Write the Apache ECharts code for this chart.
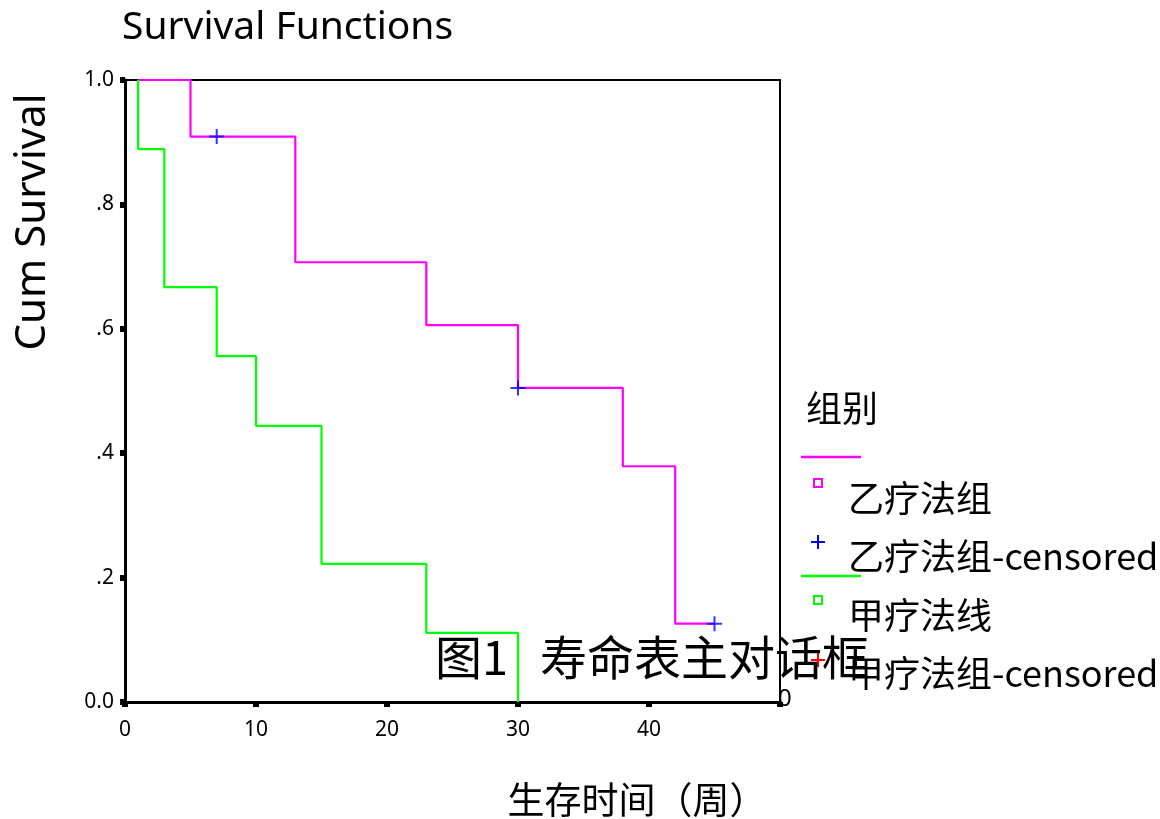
<!DOCTYPE html>
<html><head><meta charset="utf-8">
<script src="https://cdn.jsdelivr.net/npm/echarts@6/dist/echarts.min.js"></script>
<style>html,body{margin:0;padding:0;background:#fff}#c{width:1160px;height:819px}</style>
</head><body><div id="c"></div>
<script>
// ---- data ----
const title = 'Survival Functions';
const yName = 'Cum Survival';
const xName = '生存时间（周）';
const legendTitle = '组别';
const legendLabels = ['乙疗法组', '乙疗法组-censored', '甲疗法线', '甲疗法组-censored'];
const overlayText = ['图1', '寿命表主对话框'];
const xTicks = [0, 10, 20, 30, 40, 50];
const yTickLabels = ['0.0', '.2', '.4', '.6', '.8', '1.0'];

// 乙疗法组 (pink) step curve
const yiTimes = [1, 5, 13, 23, 30, 38, 42, 45];
const yiSurv  = [1.0, 0.909, 0.707, 0.606, 0.505, 0.379, 0.126, 0.126];
const yiCensTimes = [7, 30, 45];
const yiCensSurv  = [0.909, 0.505, 0.126];
// 甲疗法线 (green) step curve
const jiaTimes = [1, 1, 3, 7, 10, 15, 23, 30];
const jiaSurv  = [1.0, 0.889, 0.667, 0.556, 0.444, 0.222, 0.111, 0.0];

const pink = '#ff00ff', green = '#00ff00', blue = '#0000ff', red = '#ff0000';
const sans = '"Noto Sans", "Noto Sans CJK SC", sans-serif';
const cjk = '"Noto Sans CJK SC", "Noto Sans", sans-serif';
const plus = 'path://M0,6.5h15v2h-15z M6.5,0h2v15h-2z';

const zip = (a, b) => a.map((v, i) => [v, b[i]]);

const chart = echarts.init(document.getElementById('c'), null, {renderer: 'canvas'});

function txt(x, y, text, size, family, extra) {
  return Object.assign({type: 'text', x: x, y: y, z: 50,
    style: {text: text, fontSize: size, fontFamily: family, fill: '#000', textVerticalAlign: 'middle', verticalAlign: 'middle'}}, extra || {});
}
function plusMark(cx, cy, color) {
  return [
    {type: 'line', shape: {x1: cx - 7, y1: cy, x2: cx + 7, y2: cy}, style: {stroke: color, lineWidth: 2}},
    {type: 'line', shape: {x1: cx, y1: cy - 7, x2: cx, y2: cy + 7}, style: {stroke: color, lineWidth: 2}}
  ];
}

const legendX = 801;
const graphics = [
  txt(122, 28, title, 39, sans),
  {type: 'text', x: 33, y: 222, rotation: Math.PI / 2, z: 50,
   style: {text: yName, fontSize: 42, fontFamily: sans, fill: '#000', align: 'center', verticalAlign: 'middle'}},
  {type: 'text', x: 637, y: 800, z: 50,
   style: {text: xName, fontSize: 37, fontFamily: cjk, fill: '#000', align: 'center', verticalAlign: 'middle'}},
  txt(806, 408, legendTitle, 36, cjk),
  {type: 'line', shape: {x1: legendX, y1: 457, x2: legendX + 60, y2: 457}, style: {stroke: pink, lineWidth: 2.5}},
  {type: 'rect', shape: {x: 814, y: 479, width: 8, height: 8}, style: {fill: 'none', stroke: pink, lineWidth: 2}},
  txt(848, 498, legendLabels[0], 36, cjk),
  ...plusMark(818, 542, blue),
  txt(848, 556, legendLabels[1], 36, cjk),
  {type: 'line', shape: {x1: legendX, y1: 576, x2: legendX + 60, y2: 576}, style: {stroke: green, lineWidth: 2.5}},
  {type: 'rect', shape: {x: 814, y: 596, width: 8, height: 8}, style: {fill: 'none', stroke: green, lineWidth: 2}},
  txt(848, 615, legendLabels[2], 36, cjk),
  ...plusMark(818, 660, red),
  txt(848, 673, legendLabels[3], 36, cjk),
  txt(435, 657, overlayText[0], 47, cjk, {z: 100}),
  txt(540, 657, overlayText[1], 47, cjk, {z: 100}),
  txt(778, 699, '0', 24, sans)
];

chart.setOption({
  animation: false,
  backgroundColor: '#fff',
  grid: {left: 125, right: 380, top: 80, bottom: 117, outerBoundsMode: 'none', containLabel: false,
         show: true, borderColor: '#000', borderWidth: 2, backgroundColor: 'transparent'},
  xAxis: {
    type: 'value', min: 0, max: 50, interval: 10,
    axisLine: {show: true, onZero: false, lineStyle: {color: '#000', width: 3}},
    axisTick: {show: true, length: 5, lineStyle: {color: '#000', width: 6}},
    axisLabel: {color: '#000', fontFamily: sans, fontSize: 21, margin: 18,
      formatter: v => (v === 50 ? '' : String(v))},
    splitLine: {show: false}
  },
  yAxis: {
    type: 'value', min: 0, max: 1, interval: 0.2,
    axisLine: {show: true, onZero: false, lineStyle: {color: '#000', width: 3}},
    axisTick: {show: true, length: 5, lineStyle: {color: '#000', width: 6}},
    axisLabel: {color: '#000', fontFamily: sans, fontSize: 21, margin: 11,
      formatter: v => yTickLabels[Math.round(v * 5)]},
    splitLine: {show: false}
  },
  series: [
    {type: 'line', name: legendLabels[0], step: 'end', data: zip(yiTimes, yiSurv), showSymbol: false,
     lineStyle: {color: pink, width: 2.2}, z: 3},
    {type: 'line', name: legendLabels[2], step: 'end', data: zip(jiaTimes, jiaSurv), showSymbol: false,
     lineStyle: {color: green, width: 2.2}, z: 4},
    {type: 'scatter', name: legendLabels[1], data: zip(yiCensTimes, yiCensSurv), symbol: plus, symbolSize: 15,
     itemStyle: {color: blue}, z: 5}
  ],
  graphic: graphics
});
</script></body></html>
